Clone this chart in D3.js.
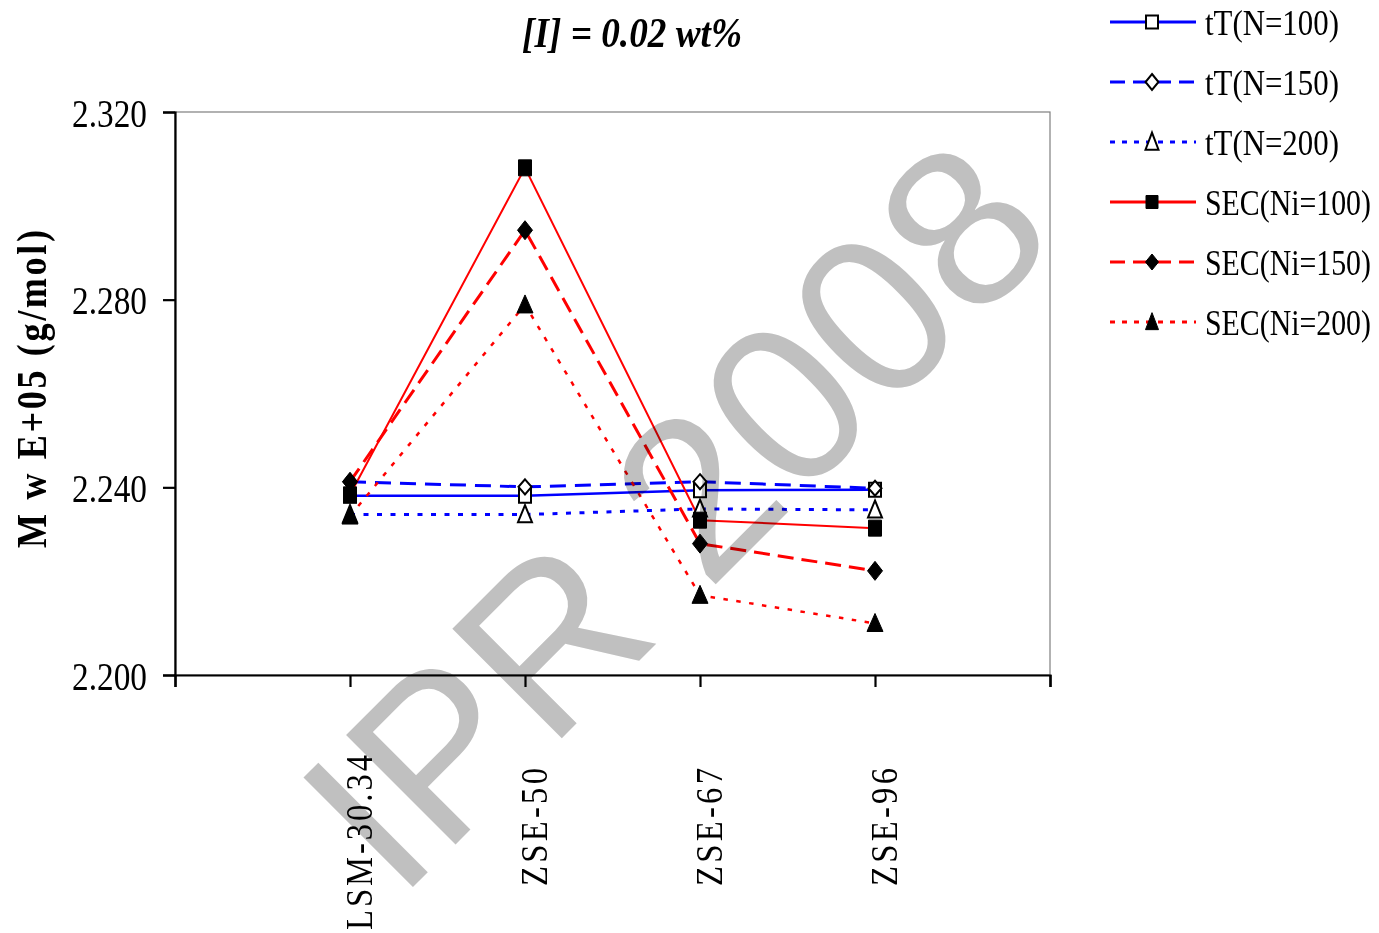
<!DOCTYPE html>
<html><head><meta charset="utf-8">
<script src="https://cdn.jsdelivr.net/npm/d3@7/dist/d3.min.js"></script>
<style>
html,body{margin:0;padding:0;background:#fff;}
svg{display:block;}
</style></head>
<body>
<svg id="chart" width="1379" height="933"></svg>
<script>
const categories = ["LSM-30.34", "ZSE-50", "ZSE-67", "ZSE-96"];
const seriesNames = ["tT(N=100)", "tT(N=150)", "tT(N=200)", "SEC(Ni=100)", "SEC(Ni=150)", "SEC(Ni=200)"];
const tT100  = [2.2382, 2.2382, 2.2394, 2.2395];
const tT150  = [2.2412, 2.2401, 2.2412, 2.2398];
const tT200  = [2.2342, 2.2342, 2.2354, 2.2352];
const sec100 = [2.2384, 2.3081, 2.2330, 2.2313];
const sec150 = [2.2412, 2.2948, 2.2280, 2.2222];
const sec200 = [2.2339, 2.2789, 2.2170, 2.2110];
const yTicks = [2.200, 2.240, 2.280, 2.320];
const titleText = "[I] = 0.02 wt%";
const yTitle = "M w E+05 (g/mol)";
const watermark = "IPR 2008";

const seriesValues = [tT100, tT150, tT200, sec100, sec150, sec200];
const styles = [
  {color:"#0000ff", dash:null,   ldash:null,  width:2.5, marker:"square",   fill:"#fff"},
  {color:"#0000ff", dash:"16,9", ldash:"15,8", width:3,   marker:"diamond",  fill:"#fff"},
  {color:"#0000ff", dash:"5,8.5",ldash:"5,7", width:3,   marker:"triangle", fill:"#fff"},
  {color:"#ff0000", dash:null,   ldash:null,  width:2,   marker:"square",   fill:"#000"},
  {color:"#ff0000", dash:"16,8", ldash:"15,8", width:3,   marker:"diamond",  fill:"#000"},
  {color:"#ff0000", dash:"4.5,8.5",ldash:"5,7", width:2.5, marker:"triangle", fill:"#000"}
];
// marker sizes [width, height]
const mSize = {
  open:   {square:[12,14], diamond:[13,15], triangle:[14,17]},
  filled: {square:[13,16], diamond:[15,19], triangle:[16,18]},
  legend: {square:[12,13], diamond:[13,16], triangle:[13,17]}
};

const svg = d3.select("#chart");
const L = 175, R = 1050, T = 112, B = 675;
const x = d3.scaleLinear().domain([0, categories.length + 1]).range([L, R]);
const y = d3.scaleLinear().domain([2.200, 2.320]).range([B, T]);
const serif = "'Liberation Serif','Times New Roman',serif";

function fit(sel, len){ sel.attr("textLength", len).attr("lengthAdjust", "spacingAndGlyphs"); }
function fitSpacing(sel, len){ sel.attr("textLength", len).attr("lengthAdjust", "spacing"); }

// plot area border
svg.append("rect").attr("x", L).attr("y", T).attr("width", R - L).attr("height", B - T)
  .attr("fill", "none").attr("stroke", "#7f7f7f").attr("stroke-width", 1.2);

// Y axis
const yAxis = svg.append("g").attr("transform", `translate(${L},0)`)
  .call(d3.axisLeft(y).tickValues(yTicks).tickFormat(d3.format(".3f")).tickSize(12).tickPadding(16));
yAxis.select(".domain").attr("stroke", "#000").attr("stroke-width", 2.2);
yAxis.selectAll(".tick line").attr("stroke", "#000").attr("stroke-width", 2.2);
yAxis.selectAll(".tick text").attr("font-family", serif)
  .attr("font-size", 40).attr("fill", "#000").attr("dy", "0.35em").call(fit, 75);

// X axis
const xAxis = svg.append("g").attr("transform", `translate(0,${B})`)
  .call(d3.axisBottom(x).tickValues(d3.range(0, categories.length + 2)).tickFormat(() => "").tickSize(12));
xAxis.select(".domain").attr("stroke", "#000").attr("stroke-width", 2.2);
xAxis.selectAll(".tick line").attr("stroke", "#000").attr("stroke-width", 2.2);

// X category labels: rotated, squeezed along reading direction, letter-spaced
const sq = 0.86;
const xLab = svg.append("g");
categories.forEach((c, i) => {
  const cx = x(i + 1);
  const len = c.length > 6 ? 175 : 118;
  let top = 768;
  if (top + len > 930) top = 930 - len;
  xLab.append("text")
    .attr("transform", `translate(${cx + 22},${top}) rotate(-90) scale(${sq},1)`)
    .attr("text-anchor", "end")
    .attr("font-family", serif)
    .attr("font-size", 38).attr("fill", "#000")
    .text(c).call(fitSpacing, len / sq);
});

// Title
svg.append("text").attr("x", 632).attr("y", 47).attr("text-anchor", "middle")
  .attr("font-family", serif)
  .attr("font-size", 42).attr("font-weight", "bold").attr("font-style", "italic")
  .text(titleText).call(fit, 220);

// Y title (rotated, squeezed, letter-spaced)
const sqy = 0.84;
svg.append("text").attr("transform", `translate(46,389) rotate(-90) scale(${sqy},1)`)
  .attr("text-anchor", "middle")
  .attr("font-family", serif)
  .attr("font-size", 43).attr("font-weight", "bold")
  .text(yTitle).call(fitSpacing, 318 / sqy);

// markers
function markerPath(type, wh){
  const w = wh[0], h = wh[1];
  if (type === "square") return `M${-w/2},${-h/2}h${w}v${h}h${-w}Z`;
  if (type === "diamond") return `M0,${-h/2}L${w/2},0L0,${h/2}L${-w/2},0Z`;
  return `M0,${-h*0.55}L${w/2},${h*0.45}L${-w/2},${h*0.45}Z`;
}

const line = d3.line().x((d, i) => x(i + 1)).y(d => y(d));
const plot = svg.append("g");
seriesValues.forEach((vals, k) => {
  const st = styles[k];
  plot.append("path").datum(vals).attr("d", line)
    .attr("fill", "none").attr("stroke", st.color).attr("stroke-width", st.width)
    .attr("stroke-dasharray", st.dash);
});
seriesValues.forEach((vals, k) => {
  const st = styles[k];
  const open = st.fill === "#fff";
  plot.selectAll(null).data(vals).enter().append("path")
    .attr("transform", (d, i) => `translate(${x(i + 1)},${y(d)})`)
    .attr("d", markerPath(st.marker, (open ? mSize.open : mSize.filled)[st.marker]))
    .attr("fill", st.fill).attr("stroke", "#000").attr("stroke-width", open ? 2 : 1);
});

// Legend
const leg = svg.append("g");
seriesNames.forEach((n, k) => {
  const st = styles[k];
  const ly = 22 + k * 60;
  leg.append("line").attr("x1", 1110).attr("x2", 1196).attr("y1", ly).attr("y2", ly)
    .attr("stroke", st.color).attr("stroke-width", 3).attr("stroke-dasharray", st.ldash);
  leg.append("path").attr("transform", `translate(1152,${ly})`)
    .attr("d", markerPath(st.marker, mSize.legend[st.marker]))
    .attr("fill", st.fill).attr("stroke", "#000").attr("stroke-width", st.fill === "#fff" ? 2 : 1);
  const t = leg.append("text")
    .attr("font-family", serif)
    .attr("font-size", 30).attr("fill", "#000")
    .text(n);
  const target = k < 3 ? 134 : 166;
  const natural = t.node().getComputedTextLength() || target;
  t.attr("transform", `translate(1205,${ly + 13}) scale(${target / natural},1.16)`);
});

// Watermark
svg.append("text").attr("transform", "translate(730,570) rotate(-45)")
  .attr("text-anchor", "middle")
  .attr("font-family", "'Liberation Sans',Arial,sans-serif")
  .attr("font-size", 225).attr("fill", "#c0c0c0")
  .style("mix-blend-mode", "multiply")
  .text(watermark);
</script>
</body></html>
